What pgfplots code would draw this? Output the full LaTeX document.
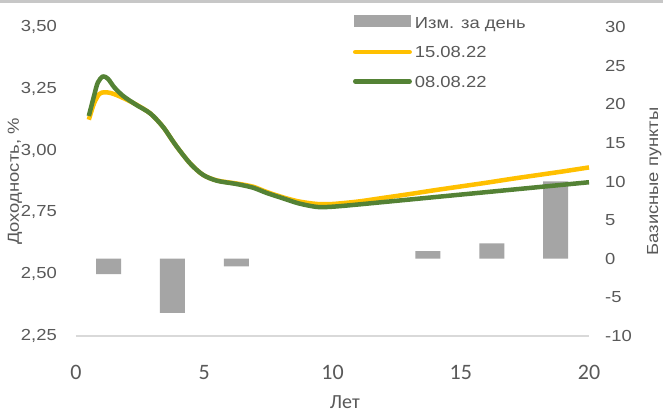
\documentclass[border=0pt]{standalone}
\usepackage{pgfplots}
\pgfplotsset{compat=1.18}
\usepackage{fontspec}
\setmainfont{Liberation Sans}[FakeStretch=1.15]
\newfontfamily\calibri{Carlito}
\definecolor{ygold}{HTML}{FFC000}
\definecolor{dgreen}{HTML}{548235}
\definecolor{bargray}{HTML}{A5A5A5}
\definecolor{txt}{HTML}{595959}
\definecolor{axgray}{HTML}{D9D9D9}
\pgfplotsset{
  linelegend/.style={legend image code/.code={\draw[##1,line cap=round] (2.3pt,0pt) -- (56.7pt,0pt);}},
  base/.style={
    at={(0pt,0pt)}, anchor=south west,
    scale only axis, width=513pt, height=309pt,
    xmin=0, xmax=20,
    major tick length=0pt,
    tick label style={text=txt, /pgf/number format/assume math mode=true},
  }
}
\begin{document}
\begin{tikzpicture}
\useasboundingbox (-76pt,-81pt) rectangle (587pt,336pt);
\fill[white] (-76pt,-81pt) rectangle (587pt,336pt);
\fill[black!22] (-76pt,333pt) rectangle (587pt,336pt);
\begin{axis}[base,
  ymin=-10, ymax=30,
  hide x axis,
  axis y line*=right,
  y axis line style={draw=none},
  ytick={-10,-5,0,5,10,15,20,25,30},
  yticklabel style={font=\fontsize{16}{19}\selectfont, inner sep=0pt, xshift=16pt, anchor=west},
  ylabel={Базисные пункты},
  every axis y label/.style={at={(axis description cs:1.127,0.5)}, rotate=90, anchor=center, font=\fontsize{16}{19}\selectfont, text=txt},
]
\addplot[ybar, bar width=25pt, fill=bargray, draw=none] coordinates {
(1.27,-2) (3.76,-7) (6.25,-1) (13.72,1) (16.21,2) (18.70,10)
};
\end{axis}
\begin{axis}[base,
  ymin=2.25, ymax=3.5,
  clip=false,
  axis x line*=bottom, axis y line*=left,
  x axis line style={draw=axgray, line width=1.5pt, -},
  y axis line style={draw=none},
  xtick={0,5,10,15,20},
  ytick={2.25,2.5,2.75,3,3.25,3.5},
  yticklabel style={font=\fontsize{16}{19}\selectfont, inner sep=0pt, xshift=-19pt, anchor=east,
    /pgf/number format/.cd, fixed, fixed zerofill, precision=2, use comma},
  xticklabel style={font=\calibri\fontsize{22}{26}\selectfont, inner sep=0pt, yshift=-29pt, anchor=north},
  xlabel={Лет},
  every axis x label/.style={at={(axis description cs:0.524,-0.214)}, anchor=center, font=\calibri\fontsize{20}{24}\selectfont, text=txt},
  ylabel={Доходность, \%},
  every axis y label/.style={at={(axis description cs:-0.119,0.5)}, rotate=90, anchor=center, font=\fontsize{16}{19}\selectfont, text=txt},
  legend cell align=left,
  legend style={at={(axis description cs:0.540,1.0388)}, anchor=north west, draw=none, fill=none,
    inner sep=0pt, outer sep=0pt, row sep=17.6pt, column sep=3pt,
    font=\fontsize{16}{19}\selectfont,
    nodes={inner sep=0pt, text height=11.7pt, text depth=0pt, text=txt}},
]
\addlegendimage{legend image code/.code={\fill[bargray] (1pt,-3.5pt) rectangle (57pt,7.5pt);}}
\addlegendentry{Изм. за день}
\addplot[ygold, line width=4.5pt, smooth, line join=round, linelegend] table {
x y
0.50 3.125
0.70 3.190
0.90 3.228
1.10 3.236
1.35 3.233
1.60 3.224
1.90 3.210
2.35 3.186
2.90 3.150
3.40 3.095
3.90 3.020
4.45 2.948
4.95 2.902
5.50 2.879
6.25 2.867
6.90 2.854
7.45 2.832
8.10 2.810
8.70 2.794
9.40 2.784
10.0 2.784
11.0 2.794
12.0 2.809
13.0 2.824
14.0 2.840
15.0 2.855
16.0 2.870
17.0 2.886
18.0 2.901
19.0 2.916
20.0 2.932
};
\addlegendentry{15.08.22}
\addplot[dgreen, line width=4.5pt, smooth, line join=round, linelegend] table {
x y
0.50 3.140
0.70 3.220
0.85 3.275
1.05 3.300
1.25 3.290
1.50 3.255
1.85 3.220
2.35 3.185
2.90 3.150
3.40 3.095
3.90 3.020
4.45 2.948
4.95 2.902
5.50 2.878
6.25 2.865
6.90 2.850
7.45 2.828
8.10 2.806
8.70 2.786
9.40 2.772
10.0 2.773
11.0 2.782
12.0 2.792
13.0 2.802
14.0 2.812
15.0 2.822
16.0 2.832
17.0 2.842
18.0 2.852
19.0 2.862
20.0 2.872
};
\addlegendentry{08.08.22}
\end{axis}
\end{tikzpicture}
\end{document}
